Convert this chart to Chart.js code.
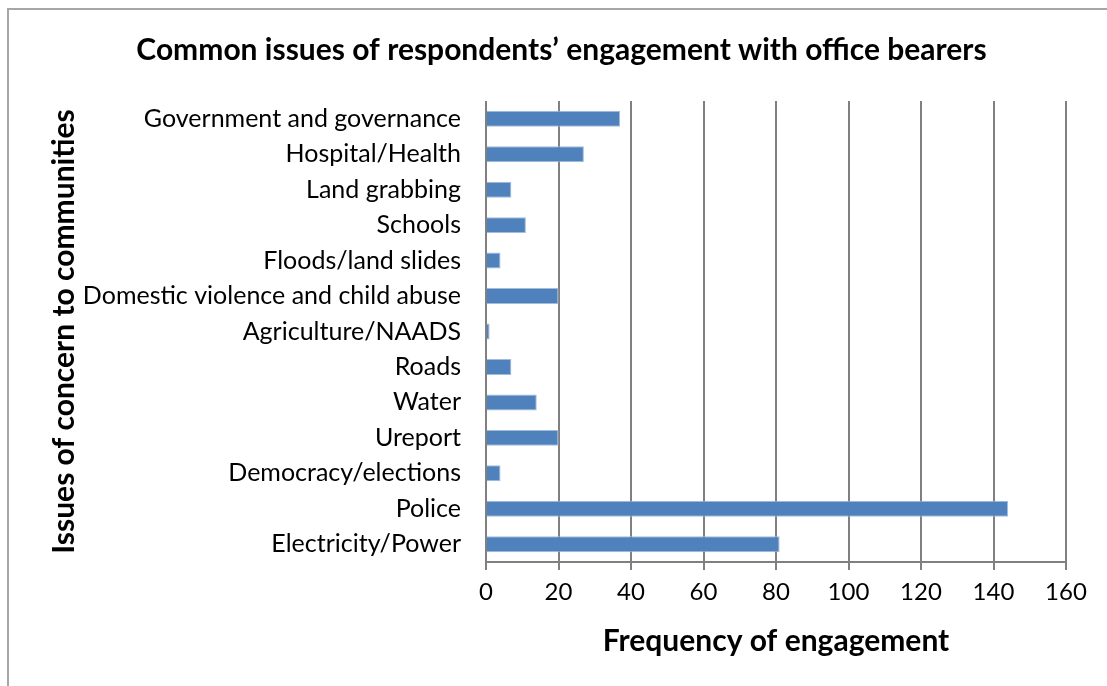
<!DOCTYPE html>
<html>
<head>
<meta charset="utf-8">
<title>Common issues of engagement</title>
<script src="https://cdn.jsdelivr.net/npm/chart.js@4.4.1/dist/chart.umd.min.js"></script>
<style>
  html, body { margin: 0; padding: 0; background: #fff; overflow: hidden; }
  #wrap { position: relative; width: 1107px; height: 686px; }
</style>
</head>
<body>
<div id="wrap"><canvas id="mychart" width="1107" height="686"></canvas></div>
<script>
'use strict';

const issues = [
    'Government and governance',
    'Hospital/Health',
    'Land grabbing',
    'Schools',
    'Floods/land slides',
    'Domestic violence and child abuse',
    'Agriculture/NAADS',
    'Roads',
    'Water',
    'Ureport',
    'Democracy/elections',
    'Police',
    'Electricity/Power'
];
const frequency = [37, 27, 7, 11, 4, 20, 1, 7, 14, 20, 4, 144, 81];
const freqTicks = [0, 20, 40, 60, 80, 100, 120, 140, 160];

const chartTitle = 'Common issues of respondents\u2019 engagement with office bearers';
const xTitle = 'Frequency of engagement';
const yTitle = 'Issues of concern to communities';

const FONT = 'Lato, "Open Sans", sans-serif';
const GRID = '#808080';

// grey outline of the chart box, it runs off the right and bottom edge
const frame = {
    id: 'frame',
    beforeDraw(chart) {
        const ctx = chart.ctx;
        ctx.save();
        ctx.strokeStyle = '#a6a6a6';
        ctx.lineWidth = 2;
        ctx.strokeRect(8, 9, 1200, 800);
        ctx.restore();
    }
};

const $canvas = document.getElementById('mychart');
const graph = new Chart($canvas, {
    type: 'bar',
    data: {
        labels: issues,
        datasets: [{
            label: 'Frequency',
            data: frequency,
            backgroundColor: '#4f81bd',
            borderColor: '#a3bcdc',
            borderWidth: 1,
            borderSkipped: 'start',
            barPercentage: 0.45,
            categoryPercentage: 1.0
        }]
    },
    options: {
        indexAxis: 'y',
        responsive: false,
        animation: false,
        devicePixelRatio: 1,
        layout: { padding: { left: 57, right: 41, top: 0, bottom: 0 } },
        plugins: {
            legend: { display: false },
            tooltip: { enabled: false },
            title: {
                display: true,
                text: chartTitle,
                color: '#000',
                font: { family: FONT, size: 30, weight: 'bold' },
                padding: { top: 32, bottom: 33 }
            }
        },
        scales: {
            x: {
                min: 0,
                max: 160,
                afterBuildTicks(scale) {
                    scale.ticks = freqTicks.map(v => ({ value: v }));
                },
                afterFit(scale) { scale.height = 124; },
                grid: {
                    color: GRID,
                    lineWidth: 2,
                    drawTicks: true,
                    tickLength: 8,
                    tickColor: GRID
                },
                border: { display: true, color: GRID, width: 2 },
                ticks: {
                    color: '#000',
                    padding: 8,
                    font: { family: FONT, size: 24 }
                },
                title: {
                    display: true,
                    text: xTitle,
                    color: '#000',
                    font: { family: FONT, size: 30, weight: 'bold' },
                    padding: { top: 0, bottom: 27 }
                }
            },
            y: {
                afterFit(scale) { scale.width = 486 - 57; },
                grid: { display: false, drawTicks: false },
                border: { display: false },
                ticks: {
                    color: '#000',
                    padding: 25,
                    autoSkip: false,
                    font: { family: FONT, size: 25 }
                },
                title: {
                    display: true,
                    text: yTitle,
                    color: '#000',
                    font: { family: FONT, size: 30, weight: 'bold' },
                    padding: { top: -11, bottom: 0 }
                }
            }
        }
    },
    plugins: [frame]
});
</script>
</body>
</html>
